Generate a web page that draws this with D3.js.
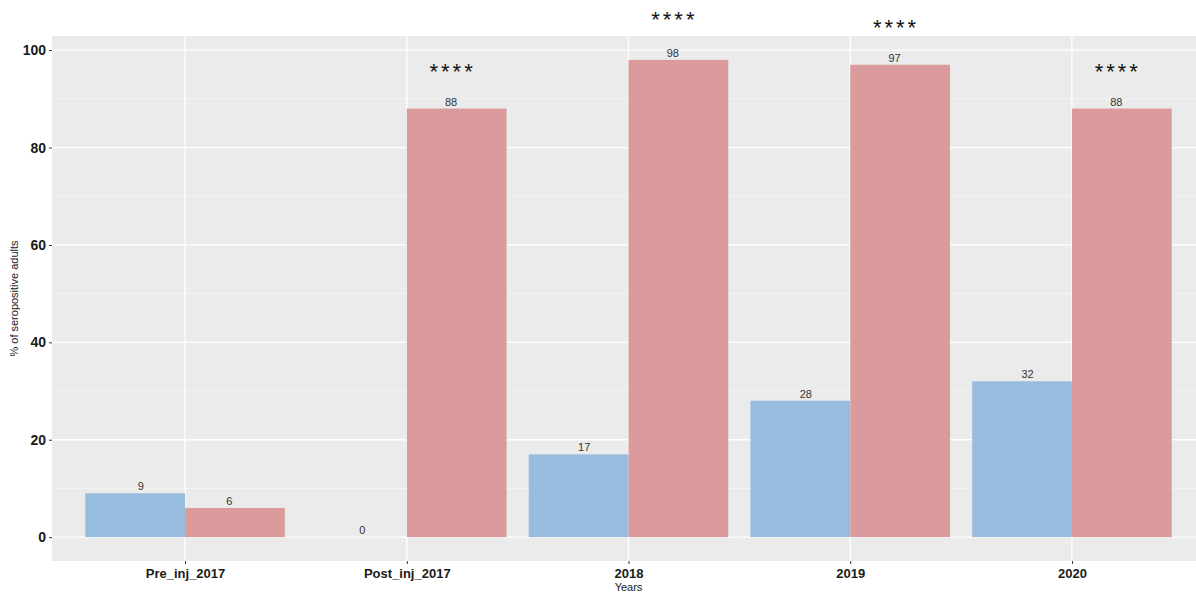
<!DOCTYPE html>
<html>
<head>
<meta charset="utf-8">
<script src="https://cdn.jsdelivr.net/npm/d3@7"></script>
<style>
  html, body { margin: 0; padding: 0; background: #ffffff; }
  svg { display: block; }
  text { font-family: "Liberation Sans", Arial, sans-serif; }
</style>
</head>
<body>
<svg id="chart" width="1196" height="592"></svg>
<script>
// ---- data ----
const categories = ["Pre_inj_2017", "Post_inj_2017", "2018", "2019", "2020"];
const groups = ["before", "after"];
const blueValues = [9, 0, 17, 28, 32];
const redValues = [6, 88, 98, 97, 88];
const starLabels = ["", "****", "****", "****", "****"];
const starY = [null, 96, 106.5, 105, 96];
const yTicks = [0, 20, 40, 60, 80, 100];
const yMinor = [10, 30, 50, 70, 90];

// ---- layout ----
const W = 1196, H = 592;
const panel = { left: 52, right: 1205, top: 36, bottom: 561 };
const svg = d3.select("#chart");

const x = d3.scalePoint().domain(categories).range([panel.left, panel.right]).padding(0.6);
const step = x.step();
const xInner = d3.scaleBand().domain(groups).range([-0.45 * step, 0.45 * step]).padding(0);
const xLabel = d3.scaleBand().domain(groups).range([-0.4 * step, 0.4 * step]).padding(0);
const y = d3.scaleLinear().domain([-4.9, 102.9]).range([panel.bottom, panel.top]);
const colors = { before: "#98bcdd", after: "#db9a9c" };

// panel background
svg.append("rect")
  .attr("x", panel.left).attr("y", panel.top)
  .attr("width", panel.right - panel.left).attr("height", panel.bottom - panel.top)
  .attr("fill", "#ebebeb");

// grid
const grid = svg.append("g");
grid.selectAll("line.minor").data(yMinor).join("line")
  .attr("x1", panel.left).attr("x2", panel.right)
  .attr("y1", d => y(d)).attr("y2", d => y(d))
  .attr("stroke", "#f6f6f6").attr("stroke-width", 0.8);
grid.selectAll("line.major").data(yTicks).join("line")
  .attr("x1", panel.left).attr("x2", panel.right)
  .attr("y1", d => y(d)).attr("y2", d => y(d))
  .attr("stroke", "#ffffff").attr("stroke-width", 1.3);
grid.selectAll("line.vmajor").data(categories).join("line")
  .attr("x1", d => x(d)).attr("x2", d => x(d))
  .attr("y1", panel.top).attr("y2", panel.bottom)
  .attr("stroke", "#ffffff").attr("stroke-width", 1.3);

// bars
const rows = categories.map((c, i) => ({ cat: c, before: blueValues[i], after: redValues[i] }));
const barG = svg.append("g");
groups.forEach(g => {
  barG.selectAll("rect." + g).data(rows).join("rect")
    .attr("x", d => x(d.cat) + xInner(g))
    .attr("width", xInner.bandwidth())
    .attr("y", d => y(Math.max(0, d[g])))
    .attr("height", d => Math.abs(y(d[g]) - y(0)))
    .attr("fill", colors[g]);
});
groups.forEach(g => {
  barG.selectAll("text." + g).data(rows).join("text")
    .attr("x", d => x(d.cat) + xLabel(g) + xLabel.bandwidth() / 2)
    .attr("y", d => y(d[g]) - 3)
    .attr("text-anchor", "middle")
    .attr("font-size", 11)
    .attr("fill", "#333333")
    .text(d => d[g]);
});

// stars
svg.append("g").selectAll("text").data(categories.map((c, i) => ({ cat: c, label: starLabels[i], v: starY[i] })).filter(d => d.label))
  .join("text")
  .attr("x", d => x(d.cat) + xLabel("after") + xLabel.bandwidth() / 2 + 1.5)
  .attr("y", d => y(d.v) + 9)
  .attr("text-anchor", "middle")
  .attr("font-size", 22)
  .attr("letter-spacing", 3)
  .attr("fill", "#111111")
  .text(d => d.label);

// y axis
const yAxis = svg.append("g").attr("transform", `translate(${panel.left},0)`)
  .call(d3.axisLeft(y).tickValues(yTicks).tickSize(3).tickPadding(3));
yAxis.select(".domain").remove();
yAxis.selectAll(".tick line").attr("stroke", "#333333");
yAxis.selectAll(".tick text").attr("font-size", 14).attr("font-weight", "bold")
  .attr("fill", "#1a1a1a").attr("font-family", "Liberation Sans, Arial, sans-serif");

// x axis
const xAxis = svg.append("g").attr("transform", `translate(0,${panel.bottom})`)
  .call(d3.axisBottom(x).tickSize(3).tickPadding(5));
xAxis.select(".domain").remove();
xAxis.selectAll(".tick line").attr("stroke", "#333333");
xAxis.selectAll(".tick text").attr("font-size", 13).attr("font-weight", "bold")
  .attr("fill", "#1a1a1a").attr("font-family", "Liberation Sans, Arial, sans-serif");

// axis titles
svg.append("text")
  .attr("x", (panel.left + 1205) / 2).attr("y", 591)
  .attr("text-anchor", "middle").attr("font-size", 11).attr("fill", "#1a1a1a")
  .text("Years");
svg.append("text")
  .attr("transform", `translate(18,${(panel.top + panel.bottom) / 2}) rotate(-90)`)
  .attr("text-anchor", "middle").attr("font-size", 11).attr("fill", "#1a1a1a")
  .text("% of seropositive adults");
</script>
</body>
</html>
